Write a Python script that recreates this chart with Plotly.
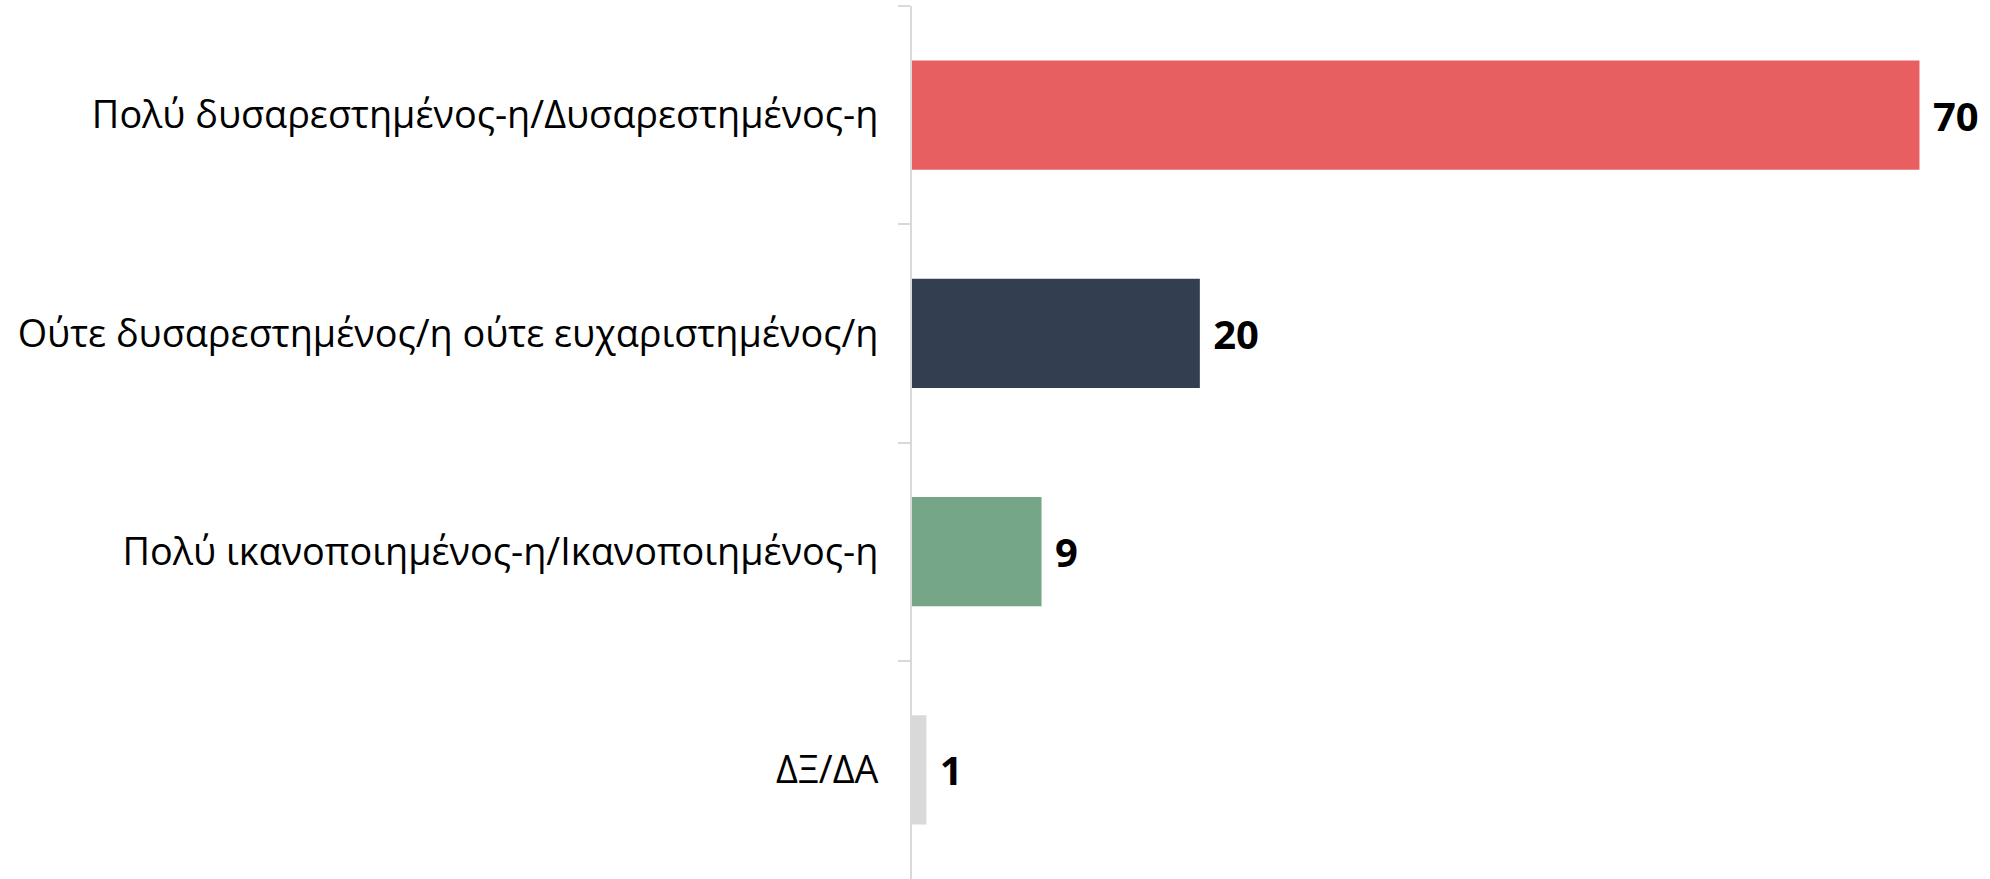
import plotly.graph_objects as go

categories = [
    "Πολύ δυσαρεστημένος-η/Δυσαρεστημένος-η",
    "Ούτε δυσαρεστημένος/η ούτε ευχαριστημένος/η",
    "Πολύ ικανοποιημένος-η/Ικανοποιημένος-η",
    "ΔΞ/ΔΑ",
]
values = [70, 20, 9, 1]
colors = ["#E85F61", "#333F50", "#75A688", "#D9D9D9"]

fig = go.Figure(
    go.Bar(
        x=values,
        y=categories,
        orientation="h",
        marker=dict(color=colors, line=dict(width=0)),
        width=0.5,
        text=values,
        texttemplate="\u00a0%{x}",
        textposition="outside",
        cliponaxis=False,
        textfont=dict(family="Open Sans", size=40, color="#000000", weight="bold"),
    )
)

fig.update_layout(
    width=1990,
    height=879,
    margin=dict(l=912, r=0, t=6, b=0),
    plot_bgcolor="white",
    paper_bgcolor="white",
    showlegend=False,
    font=dict(family="Open Sans", color="#000000"),
)
fig.update_xaxes(range=[0, 74.9], visible=False)
fig.update_yaxes(
    autorange="reversed",
    showline=True,
    linecolor="#D9D9D9",
    linewidth=2,
    ticks="outside",
    tickson="boundaries",
    ticklen=12,
    tickcolor="#D9D9D9",
    tickwidth=2,
    ticklabelstandoff=24,
    tickfont=dict(family="Open Sans", size=37.8, color="#000000"),
    showgrid=False,
)

# drop the browser's default body margin so the figure sits at the page corner
fig.write_html(
    "out.html",
    config={"displayModeBar": False},
    post_script="document.body.style.margin='0';",
)
